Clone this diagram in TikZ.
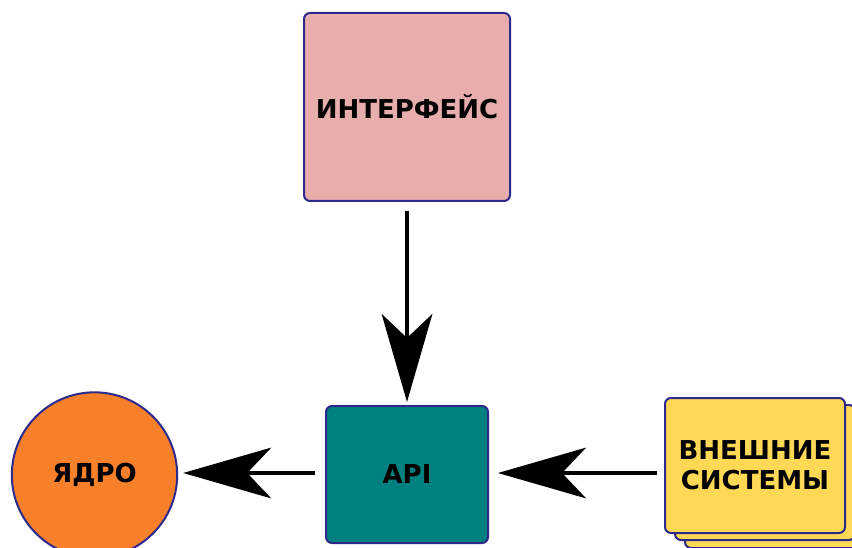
\documentclass[tikz,border=0pt]{standalone}
\usepackage{fontspec}
\setmainfont{DejaVu Sans}
\usetikzlibrary{arrows.meta}
\definecolor{edgeblue}{HTML}{2E2A8C}
\definecolor{ifill}{HTML}{E8AEAE}
\definecolor{apifill}{HTML}{008080}
\definecolor{corefill}{HTML}{F9802A}
\definecolor{extfill}{HTML}{FFD955}
\tikzset{
  boxstyle/.style={draw=edgeblue, line width=1.5pt, rounded corners=4.5pt, inner sep=0pt,
    font=\bfseries\fontsize{19.5}{22.5}\selectfont, align=center},
  conn/.style={line width=2.4pt, -{Stealth[length=66pt, width=38pt, inset=18pt]}}
}
\begin{document}
\begin{tikzpicture}[x=0.75pt, y=-0.75pt]
\clip (0,0) rectangle (852,548);
\fill[white] (0,0) rectangle (852,548);
\node[boxstyle, fill=ifill, minimum width=154.5pt, minimum height=141pt] (iface) at (407,107) {ИНТЕРФЕЙС};
\node[boxstyle, fill=apifill, minimum width=121.5pt, minimum height=102.75pt] (api) at (407,474.5) {API};
\node[boxstyle, circle, fill=corefill, minimum size=124pt] (core) at (94.5,475) {ЯДРО};
\node[boxstyle, fill=extfill, minimum width=135pt, minimum height=101.25pt] (ext3) at (775,480.5) {};
\node[boxstyle, fill=extfill, minimum width=135pt, minimum height=101.25pt] (ext2) at (765,472.5) {};
\node[boxstyle, fill=extfill, minimum width=135pt, minimum height=101.25pt] (ext) at (755,465.5) {ВНЕШНИЕ\\СИСТЕМЫ};
\draw[conn, shorten <=6.75pt, shorten >=2.25pt] (iface.south) -- (api.north);
\draw[conn, shorten <=7.5pt, shorten >=3.75pt] (api.west |- 0,473) -- (core.east |- 0,473);
\draw[conn, shorten <=5.25pt, shorten >=6.75pt] (ext.west |- 0,473) -- (api.east |- 0,473);
\end{tikzpicture}
\end{document}
